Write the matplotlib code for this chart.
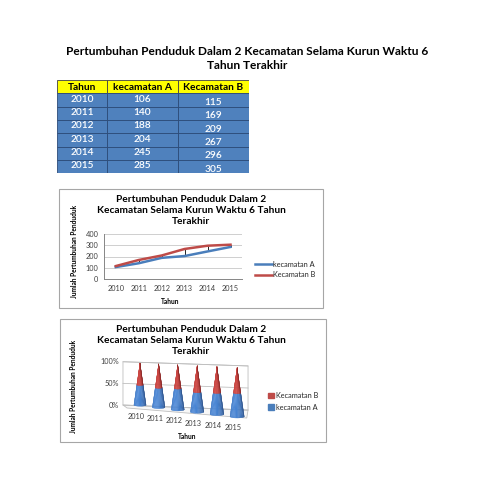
import numpy as np
import matplotlib
matplotlib.use("Agg")
import matplotlib.pyplot as plt
from matplotlib.patches import Rectangle, Polygon, Patch

plt.rcParams["font.family"] = ["Lato", "DejaVu Sans"]

# data
tahun = ["2010", "2011", "2012", "2013", "2014", "2015"]
kec_a = [106, 140, 188, 204, 245, 285]
kec_b = [115, 169, 209, 267, 296, 305]
kolom = ["Tahun", "kecamatan A", "Kecamatan B"]
judul = ["Pertumbuhan Penduduk Dalam 2 Kecamatan Selama Kurun Waktu 6",
         "Tahun Terakhir"]
judul_grafik = ["Pertumbuhan Penduduk Dalam 2",
                "Kecamatan Selama Kurun Waktu 6 Tahun",
                "Terakhir"]
label_y = "Jumlah Pertumbuhan Penduduk"
label_x = "Tahun"
ticks_line = [0, 100, 200, 300, 400]
ticks_pct = [0, 50, 100]

BIRU = "#4a7ebb"
MERAH = "#be4b48"
TEKS = "#404040"

W = H = 495
fig = plt.figure(figsize=(4.95, 4.95), dpi=100)


def box(x0, y0, x1, y1):
    # pixel box -> figure rect
    return [x0 / W, 1 - y1 / H, (x1 - x0) / W, (y1 - y0) / H]


def pt(x, y):
    return x / W, 1 - y / H


def frame(x0, y0, x1, y1):
    fig.add_artist(Rectangle(pt(x0, y1), (x1 - x0) / W, (y1 - y0) / H,
                             fill=False, edgecolor="#a6a6a6", lw=0.8,
                             transform=fig.transFigure))


# page title
fig.text(*pt(247, 51.7), judul[0], ha="center", va="center",
         fontsize=8.6, weight="bold", color="black")
fig.text(*pt(247, 65.7), judul[1], ha="center", va="center",
         fontsize=8.6, weight="bold", color="black")

# ---- table ----
ax_t = fig.add_axes(box(57.3, 80, 249.3, 173.3))
ax_t.set_xlim(0, 192)
ax_t.set_ylim(len(tahun) + 1, 0)
ax_t.axis("off")
tepi = [0, 50, 120.4, 192]
for j, nama in enumerate(kolom):
    ax_t.add_patch(Rectangle((tepi[j], 0), tepi[j + 1] - tepi[j], 1,
                             facecolor="#ffff00", edgecolor="#404040", lw=0.6))
    ax_t.text((tepi[j] + tepi[j + 1]) / 2, 0.55, nama, ha="center",
              va="center", fontsize=7.3, weight="bold", color="black")
baris = list(zip(tahun, kec_a, kec_b))
for r, vals in enumerate(baris):
    for j, v in enumerate(vals):
        ax_t.add_patch(Rectangle((tepi[j], r + 1), tepi[j + 1] - tepi[j], 1,
                                 facecolor="#4f81bd", edgecolor="#2b4a78",
                                 lw=0.6))
        dy = 0.7 if j == 2 else 0.45
        ax_t.text((tepi[j] + tepi[j + 1]) / 2, r + 1 + dy, str(v),
                  ha="center", va="center", fontsize=7.3, color="white",
                  weight="semibold")

# ---- line chart ----
frame(59, 189, 323, 308)
for k, s in enumerate(judul_grafik):
    fig.text(*pt(191.5, 200 + k * 10.5), s, ha="center", va="center",
             fontsize=7.3, weight="bold", color="black")

ax1 = fig.add_axes(box(104.3, 234, 242, 279))
x = np.arange(len(tahun))
ax1.vlines(x, kec_a, kec_b, color="black", lw=0.6, zorder=1.5)
ax1.plot(x, kec_a, color=BIRU, lw=1.8, label="kecamatan A", zorder=2)
ax1.plot(x, kec_b, color=MERAH, lw=1.8, label="Kecamatan B", zorder=2)
ax1.set_xlim(-0.5, len(tahun) - 0.5)
ax1.set_ylim(ticks_line[0], ticks_line[-1])
ax1.set_yticks(ticks_line)
ax1.set_xticks(x)
ax1.set_xticklabels(tahun)
ax1.grid(axis="y", color="#c8c8c8", lw=0.6)
ax1.set_axisbelow(True)
for sp in ["top", "right"]:
    ax1.spines[sp].set_visible(False)
for sp in ["left", "bottom"]:
    ax1.spines[sp].set_color("#868686")
    ax1.spines[sp].set_linewidth(0.7)
ax1.tick_params(length=0, labelsize=5.3, labelcolor=TEKS, pad=4.3)
ax1.legend(loc="center left", bbox_to_anchor=pt(255, 269.5),
           bbox_transform=fig.transFigure, frameon=False, fontsize=5.3,
           handlelength=2.3, handletextpad=0.15, labelspacing=0.5,
           borderpad=0, borderaxespad=0, labelcolor="#262626")
fig.text(*pt(74.3, 251.7), label_y, rotation=90, ha="center", va="center",
         fontsize=4.7, weight="bold", color="black")
fig.text(*pt(170, 301.7), label_x, ha="center", va="center",
         fontsize=4.8, weight="bold", color="black")

# ---- 3D cone chart (100% stacked) ----
frame(60, 319, 325.7, 441.7)
for k, s in enumerate(judul_grafik):
    fig.text(*pt(191.5, 330 + k * 10.5), s, ha="center", va="center",
             fontsize=7.3, weight="bold", color="black")

ax2 = fig.add_axes(box(95, 350, 265, 440))
ax2.set_xlim((95 - 140) / 18.5, (265 - 140) / 18.5)
ax2.set_ylim((405 - 440) / 0.42, (405 - 350) / 0.42)
ax2.axis("off")


def depan(i, p):
    # front plane through the cone centres, light perspective
    return i * (1 + 0.01 * i), -5.5 * i + p * (1 + 0.033 * i)


def dinding(s, p):
    # back wall, s runs 0..1 from left to right
    xx = -0.92 + s * 6.76
    yy = (1 - s) * 1.03 * p + s * (1.05 * p - 12)
    return xx, yy


lantai = [dinding(0, 0), dinding(1, 0), (5.77, -31), (-0.70, -7.1)]
ax2.add_patch(Polygon(lantai, closed=True, facecolor="#f7f7f7",
                      edgecolor="#bfbfbf", lw=0.6, zorder=0))
ax2.add_patch(Polygon([dinding(0, 0), dinding(1, 0), dinding(1, 100),
                       dinding(0, 100)], closed=True, facecolor="white",
                      edgecolor="#bfbfbf", lw=0.6, zorder=0.5))
for p in ticks_pct:
    (x0, y0), (x1, y1) = dinding(0, p), dinding(1, p)
    ax2.plot([x0, x1], [y0, y1], color="#bfbfbf", lw=0.6, zorder=1)
    ax2.text(x0 - 0.2, y0, f"{p}%", ha="right", va="center", fontsize=5.3,
             color=TEKS)


def warna(c1, c2, w):
    a = np.array(matplotlib.colors.to_rgb(c1))
    b = np.array(matplotlib.colors.to_rgb(c2))
    return tuple(a + (b - a) * w)


def kerucut(i, f):
    cx, by = depan(i, 0)
    hc = depan(i, 100)[1] - by
    sk = 1 + 0.033 * i
    r, e = 0.33 * sk, 3.0 * sk
    th = np.linspace(-np.pi / 2, np.pi / 2, 17)
    bagian = [(0, f, "#142f5e", "#4a87d6"), (f, 1, "#5e1212", "#cf4642")]
    for t0, t1, gelap, terang in bagian:
        for a1, a2 in zip(th[:-1], th[1:]):
            u1, u2 = np.sin(a1), np.sin(a2)
            ps = []
            for u, t in [(u1, t0), (u2, t0), (u2, t1), (u1, t1)]:
                ps.append((cx + r * (1 - t) * u,
                           by + t * hc - e * (1 - t) * np.sqrt(max(0, 1 - u * u))))
            w = ((np.cos((a1 + a2) / 2 + 0.5) + 1) / 2) ** 0.8
            c = warna(gelap, terang, w)
            ax2.add_patch(Polygon(ps, closed=True, facecolor=c, edgecolor=c,
                                  lw=0.2, zorder=3 + i))


for i in range(len(tahun)):
    kerucut(i, kec_a[i] / (kec_a[i] + kec_b[i]))
    lx, ly = depan(i - 0.2, 0)
    ax2.text(lx, ly - 28, tahun[i], ha="center", va="center", fontsize=5.3,
             color=TEKS)

ax2.legend(handles=[Patch(color=MERAH, label="Kecamatan B"),
                    Patch(color=BIRU, label="kecamatan A")],
           loc="center left", bbox_to_anchor=pt(268, 401.3),
           bbox_transform=fig.transFigure, frameon=False, fontsize=5.3,
           handlelength=0.75, handleheight=0.75, handletextpad=0.3,
           labelspacing=0.6, borderpad=0, borderaxespad=0,
           labelcolor="#262626")
fig.text(*pt(73, 386), label_y, rotation=90, ha="center", va="center",
         fontsize=4.7, weight="bold", color="black")
fig.text(*pt(186.7, 436.7), label_x, ha="center", va="center",
         fontsize=4.8, weight="bold", color="black")

fig.savefig("out.png", dpi=100, facecolor="white")
